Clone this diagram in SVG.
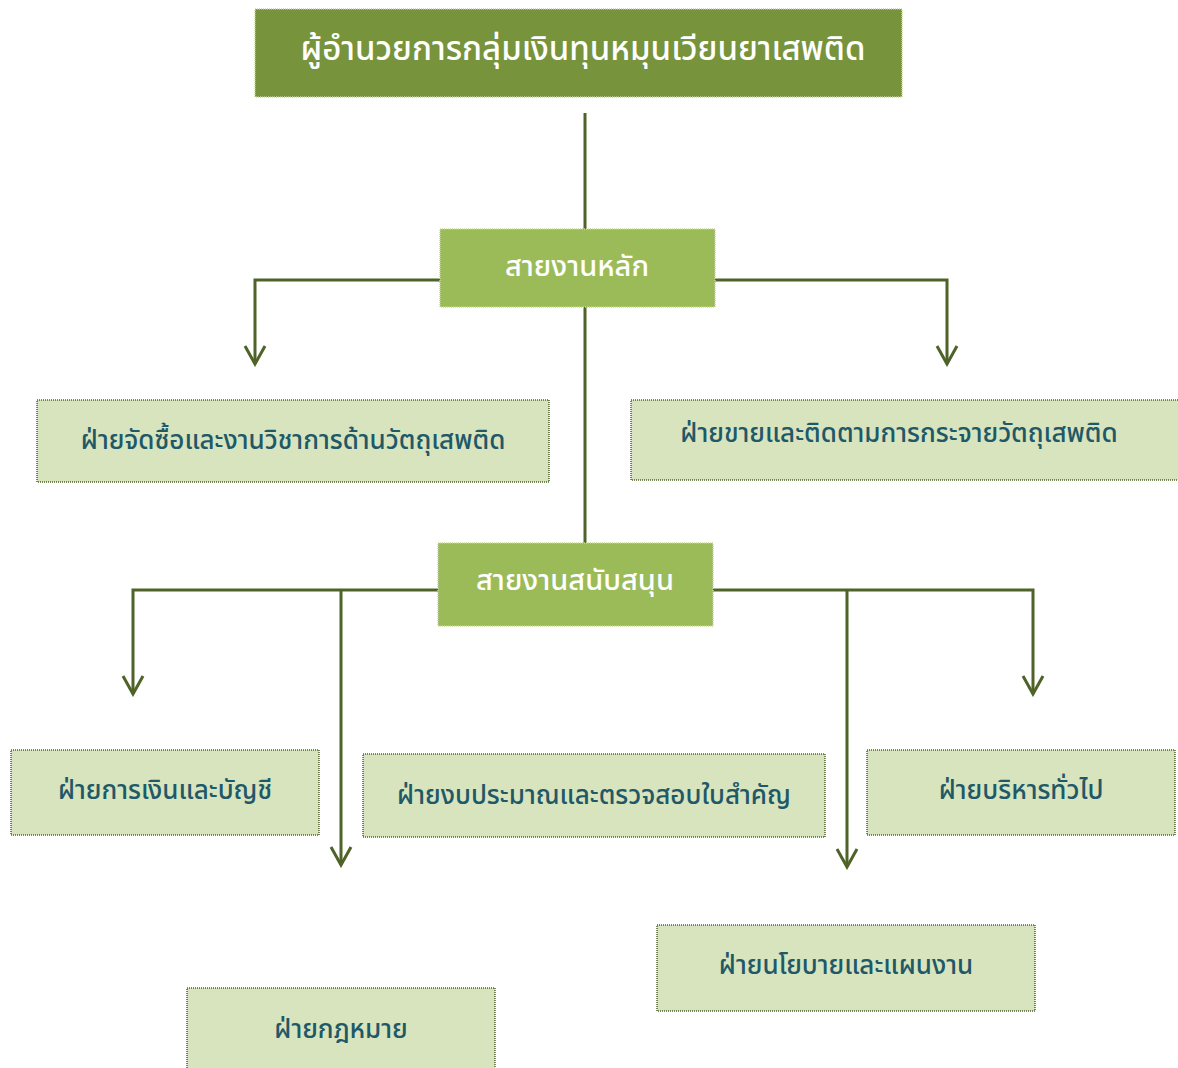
<svg xmlns="http://www.w3.org/2000/svg" width="1178" height="1068" viewBox="0 0 1178 1068">
<style>
.top{fill:#77933c;stroke:#c3d69b;stroke-width:1.5;stroke-dasharray:1 1}
.mid{fill:#9bbb59;stroke:#c3d69b;stroke-width:1.5;stroke-dasharray:1 1}
.leaf{fill:#d7e4bd;stroke:#4f6228;stroke-width:1.5;stroke-dasharray:1 1}
.tw{fill:#ffffff;font-family:"Noto Sans Thai","Noto Sans",Tahoma,sans-serif;text-anchor:middle;dominant-baseline:central;font-weight:500}
.tl{fill:#215868;font-family:"Noto Sans Thai","Noto Sans",Tahoma,sans-serif;text-anchor:middle;dominant-baseline:central;font-size:26px;font-weight:500}
.c{fill:none;stroke:#4f6228;stroke-width:3}
</style>
<defs>
<marker id="ah" markerUnits="userSpaceOnUse" markerWidth="24" markerHeight="26" viewBox="-21 -13 24 26" refX="0" refY="0" orient="auto">
<path d="M-18,-10L0,0L-18,10" fill="none" stroke="#4f6228" stroke-width="3"/>
</marker>
</defs>
<g id="connectors" class="c">
<path d="M585 113V229"/>
<path d="M440 280H255V364" marker-end="url(#ah)"/>
<path d="M715 280H947V364" marker-end="url(#ah)"/>
<path d="M585 307V543"/>
<path d="M438 590H133V694" marker-end="url(#ah)"/>
<path d="M341 590V865" marker-end="url(#ah)"/>
<path d="M713 590H1033V694" marker-end="url(#ah)"/>
<path d="M847 590V867" marker-end="url(#ah)"/>
</g>
<g id="n-director"><rect class="top" x="255" y="9" width="647" height="88"/><text class="tw" x="583" y="50" font-size="33">ผู้อำนวยการกลุ่มเงินทุนหมุนเวียนยาเสพติด</text></g>
<g id="n-main"><rect class="mid" x="440" y="229" width="275" height="78"/><text class="tw" x="577" y="267" font-size="29">สายงานหลัก</text></g>
<g id="n-procure"><rect class="leaf" x="37" y="400" width="512" height="82"/><text class="tl" x="293" y="441">ฝ่ายจัดซื้อและงานวิชาการด้านวัตถุเสพติด</text></g>
<g id="n-sales"><rect class="leaf" x="631" y="400" width="560" height="80"/><text class="tl" x="899" y="434">ฝ่ายขายและติดตามการกระจายวัตถุเสพติด</text></g>
<g id="n-support"><rect class="mid" x="438" y="543" width="275" height="83"/><text class="tw" x="575" y="581" font-size="29">สายงานสนับสนุน</text></g>
<g id="n-finance"><rect class="leaf" x="11" y="750" width="308" height="85"/><text class="tl" x="165" y="791">ฝ่ายการเงินและบัญชี</text></g>
<g id="n-budget"><rect class="leaf" x="363" y="754" width="462" height="83"/><text class="tl" x="594" y="796">ฝ่ายงบประมาณและตรวจสอบใบสำคัญ</text></g>
<g id="n-admin"><rect class="leaf" x="867" y="750" width="308" height="85"/><text class="tl" x="1021" y="791">ฝ่ายบริหารทั่วไป</text></g>
<g id="n-policy"><rect class="leaf" x="657" y="925" width="378" height="86"/><text class="tl" x="846" y="966">ฝ่ายนโยบายและแผนงาน</text></g>
<g id="n-legal"><rect class="leaf" x="187" y="988" width="308" height="90"/><text class="tl" x="341" y="1030">ฝ่ายกฎหมาย</text></g>
</svg>
